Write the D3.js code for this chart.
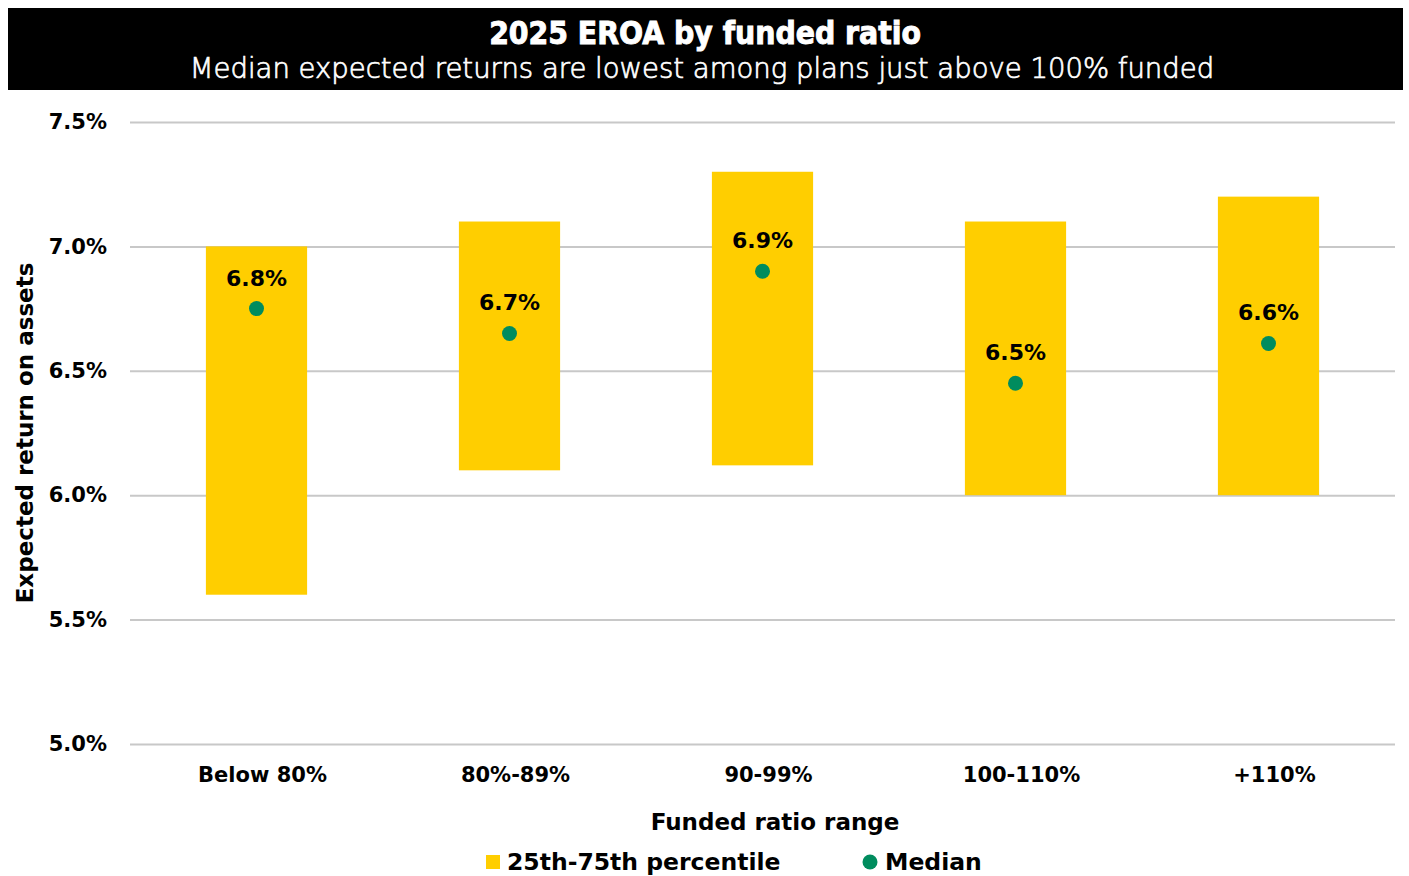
<!DOCTYPE html>
<html>
<head>
<meta charset="utf-8">
<script src="https://cdn.jsdelivr.net/npm/d3@7"></script>
<style>
  html, body { margin: 0; padding: 0; background: #fff; }
  svg { display: block; }
  text { font-family: "DejaVu Sans", sans-serif; }
</style>
</head>
<body>
<svg id="chart" width="1409" height="876"></svg>
<script>
// Funded ratio buckets and expected return on assets (%)
const categories = ["Below 80%", "80%-89%", "90-99%", "100-110%", "+110%"];
const p25 = [5.6, 6.1, 6.12, 6.0, 6.0];
const p75 = [7.0, 7.1, 7.3, 7.1, 7.2];
const medians = [6.75, 6.65, 6.9, 6.45, 6.61];
const yTicks = [5.0, 5.5, 6.0, 6.5, 7.0, 7.5];

const title = "2025 EROA by funded ratio";
const subtitle = "Median expected returns are lowest among plans just above 100% funded";
const yTitle = "Expected return on assets";
const xTitle = "Funded ratio range";
const legendItems = ["25th-75th percentile", "Median"];

const W = 1409, H = 876;
const margin = { left: 130, right: 14, top: 122, bottom: 132 };
const YELLOW = "#FFCE00", GREEN = "#008C5E", GRID = "#C8C8C8";
const BODY = "'DejaVu Sans', sans-serif";

const svg = d3.select("#chart");

// Header band
svg.append("rect").attr("x", 8).attr("y", 8).attr("width", 1395).attr("height", 82).attr("fill", "#000");
svg.append("text").attr("x", 705).attr("y", 44).attr("text-anchor", "middle")
  .attr("fill", "#fff").attr("stroke", "#fff").attr("stroke-width", 0.9)
  .style("font-family", "'DejaVu Sans Condensed', 'DejaVu Sans', sans-serif")
  .style("font-weight", 700).style("font-size", "31.5px").text(title);
svg.append("text").attr("x", 702).attr("y", 78).attr("text-anchor", "middle")
  .attr("fill", "#fff").attr("stroke", "#fff").attr("stroke-width", 0.7)
  .style("font-family", BODY).style("font-weight", 300)
  .style("font-size", "27.5px").text(subtitle);

const x = d3.scaleBand().domain(categories).range([margin.left, W - margin.right]).paddingInner(0.6).paddingOuter(0.3);
const y = d3.scaleLinear().domain([5.0, 7.5]).range([H - margin.bottom, margin.top]);

// Gridlines + y tick labels
const yAxis = d3.axisLeft(y).tickValues(yTicks).tickFormat(d => d3.format(".1f")(d) + "%")
  .tickSize(-(W - margin.right - margin.left)).tickPadding(23);
const gy = svg.append("g").attr("transform", `translate(${margin.left},0)`).call(yAxis);
gy.select(".domain").remove();
gy.selectAll(".tick line").attr("stroke", GRID).attr("stroke-width", 2);
gy.selectAll(".tick text").attr("fill", "#000").style("font-size", "21px").style("font-weight", 700)
  .style("font-family", BODY);

// x category labels
const xAxis = d3.axisBottom(x).tickSize(0).tickPadding(23);
const gx = svg.append("g").attr("transform", `translate(6,${H - margin.bottom})`).call(xAxis);
gx.select(".domain").remove();
gx.selectAll(".tick text").attr("fill", "#000").style("font-size", "21px").style("font-weight", 700)
  .style("font-family", BODY);

// Interquartile bars
svg.append("g").selectAll("rect").data(categories).join("rect")
  .attr("x", d => x(d))
  .attr("width", x.bandwidth())
  .attr("y", (d, i) => y(p75[i]))
  .attr("height", (d, i) => y(p25[i]) - y(p75[i]))
  .attr("fill", YELLOW);

// Median dots
svg.append("g").selectAll("circle").data(categories).join("circle")
  .attr("cx", d => x(d) + x.bandwidth() / 2)
  .attr("cy", (d, i) => y(medians[i]))
  .attr("r", 7.5)
  .attr("fill", GREEN);

// Median value labels
svg.append("g").selectAll("text").data(categories).join("text")
  .attr("x", d => x(d) + x.bandwidth() / 2)
  .attr("y", (d, i) => y(medians[i]) - 23)
  .attr("text-anchor", "middle")
  .style("font-size", "22px").style("font-weight", 700)
  .text((d, i) => d3.format(".1f")(medians[i]) + "%");

// Axis titles
svg.append("text").attr("transform", `translate(33,433) rotate(-90)`)
  .attr("text-anchor", "middle").style("font-size", "23px").style("font-weight", 700).text(yTitle);
svg.append("text").attr("x", 775).attr("y", 830).attr("text-anchor", "middle")
  .style("font-size", "23px").style("font-weight", 700).text(xTitle);

// Legend
const lg = svg.append("g");
lg.append("rect").attr("x", 486).attr("y", 855).attr("width", 14).attr("height", 14).attr("fill", YELLOW);
lg.append("text").attr("x", 507).attr("y", 870).style("font-size", "23.5px").style("font-weight", 700).text(legendItems[0]);
lg.append("circle").attr("cx", 870).attr("cy", 862).attr("r", 7.5).attr("fill", GREEN);
lg.append("text").attr("x", 885).attr("y", 870).style("font-size", "23.5px").style("font-weight", 700).text(legendItems[1]);
</script>
</body>
</html>
